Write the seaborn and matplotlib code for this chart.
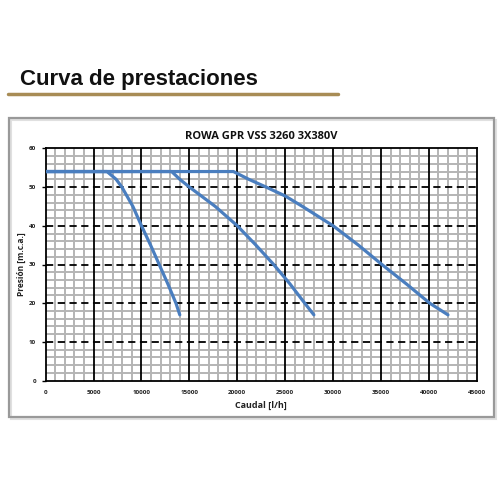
import matplotlib
matplotlib.use("Agg")
import matplotlib.pyplot as plt
import seaborn as sns
import pandas as pd
import numpy as np
from matplotlib.patches import Rectangle
from matplotlib.lines import Line2D

# Data
curve1_x = [0, 6400, 7350, 7950, 9100, 10000, 10950, 11850, 12750, 13600, 14000]
curve1_y = [54, 54, 52, 50, 45, 40, 35, 30, 25, 20, 17]
curve2_x = [0, 13150, 14000, 15000, 17700, 20000, 21950, 23800, 25500, 27050, 28000]
curve2_y = [54, 54, 52, 50, 45, 40, 35, 30, 25, 20, 17]
curve3_x = [0, 19600, 21200, 23000, 25000, 26800, 30000, 32650, 35100, 37650, 40100, 42000]
curve3_y = [54, 54, 52, 50, 47.7, 45, 40, 35, 30, 25, 20, 17]
x_ticks = [0, 5000, 10000, 15000, 20000, 25000, 30000, 35000, 40000, 45000]
y_ticks = [0, 10, 20, 30, 40, 50, 60]

frames = []
for name, xs, ys in [("c1", curve1_x, curve1_y), ("c2", curve2_x, curve2_y), ("c3", curve3_x, curve3_y)]:
    frames.append(pd.DataFrame({"Caudal": xs, "Presion": ys, "curva": name}))
df = pd.concat(frames, ignore_index=True)

sns.set_theme(style="white")
plt.rcParams['font.family'] = ['Open Sans', 'DejaVu Sans']

fig = plt.figure(figsize=(5, 5), dpi=100)
fig.patch.set_facecolor("white")

# outer frame with light shadow
fig.add_artist(Rectangle((10.5/500, 1-418.5/500), (494-9)/500, (417-118)/500, transform=fig.transFigure,
                         fill=False, edgecolor="#e0e0e0", linewidth=1.5))
fig.add_artist(Rectangle((9/500, 1-417/500), (494-9)/500, (417-118)/500, transform=fig.transFigure,
                         fill=False, edgecolor="#999999", linewidth=1.6))
# page heading
fig.text(20/500, 1-80/500, "Curva de prestaciones", fontsize=16, fontweight="bold",
         family=["Liberation Sans", "DejaVu Sans"], color="#111111", va="center", ha="left")
fig.add_artist(Line2D([8/500, 338/500], [1-94/500, 1-94/500], transform=fig.transFigure,
                      color="#a88c55", linewidth=2.5))

ax = fig.add_axes([45.7/500, 1-380.7/500, (476.7-45.7)/500, (380.7-148.3)/500])
ax.set_xlim(0, 45000)
ax.set_ylim(0, 60)

# minor grid
for xv in np.arange(1000, 45000, 1000):
    if xv % 5000:
        ax.axvline(xv, color="#b4b4b4", linewidth=1.4, zorder=1)
for yv in np.arange(2, 60, 2):
    if yv % 10:
        ax.axhline(yv, color="#b4b4b4", linewidth=1.4, zorder=1)
# major grid
for xv in x_ticks[1:-1]:
    ax.axvline(xv, color="black", linewidth=1.3, zorder=2)
for yv in y_ticks[1:-1]:
    ax.axhline(yv, color="black", linewidth=1.3, linestyle=(0, (4, 2.5)), zorder=2)

sns.lineplot(data=df, x="Caudal", y="Presion", units="curva", estimator=None, sort=False,
             color="#4a7ebf", linewidth=2.3, ax=ax, zorder=3)
for ln in ax.get_lines():
    ln.set_solid_joinstyle("round")

for s in ax.spines.values():
    s.set_visible(True)
    s.set_color("black")
    s.set_linewidth(1.3)

ax.set_xticks(x_ticks)
ax.set_yticks(y_ticks)
ax.set_xticklabels([str(v) for v in x_ticks], fontsize=4.5, fontweight="bold", color="#222222")
ax.set_yticklabels([str(v) for v in y_ticks], fontsize=4.5, fontweight="bold", color="#222222")
ax.tick_params(axis="both", length=3, width=1, color="black", pad=4, direction="out")
ax.tick_params(axis="x", bottom=True, length=0, pad=7)
ax.tick_params(axis="y", left=True)

ax.set_xlabel("Caudal [l/h]", fontsize=6.5, fontweight="bold", labelpad=4, color="#222222")
ax.set_ylabel("Presión [m.c.a.]", fontsize=6, fontweight="bold", labelpad=2, color="#222222")
ax.set_title("ROWA GPR VSS 3260 3X380V", fontsize=8, fontweight="bold", pad=7, color="#111111")

fig.savefig("out.png", dpi=100, facecolor="white")
